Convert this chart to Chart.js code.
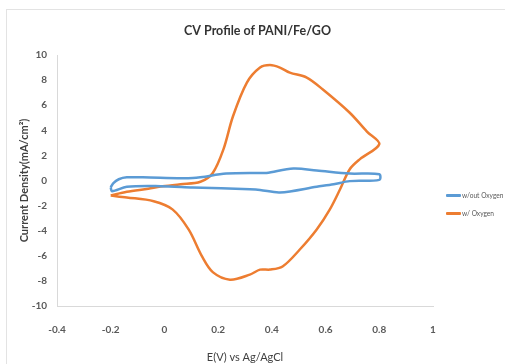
<!DOCTYPE html>
<html>
<head>
<meta charset="utf-8">
<script src="https://cdn.jsdelivr.net/npm/chart.js@4.4.1/dist/chart.umd.min.js"></script>
<style>
  html, body { margin: 0; padding: 0; background: #fff; }
  #wrap { position: relative; width: 505px; height: 364px; }
  #frame { position: absolute; left: 6px; top: 9px; width: 510px; height: 360px; border: 1px solid #e3e3e3; box-sizing: border-box; }
  #legend { position: absolute; left: 446px; top: 186px; font-family: Lato, sans-serif; font-size: 6.6px; color: #595959; }
</style>
</head>
<body>
<div id="wrap">
  <div id="frame"></div>
  <canvas id="cv" width="505" height="364"></canvas>
  <div id="legend"></div>
</div>
<script>
// w/ Oxygen: anodic sweep then cathodic sweep back
const oxyE = [-0.2, -0.14, -0.06, -0.015, 0.06, 0.134, 0.18, 0.22, 0.255, 0.307, 0.356, 0.393, 0.43, 0.467, 0.53, 0.59, 0.69, 0.754, 0.8,
              0.728, 0.69, 0.654, 0.616, 0.567, 0.504, 0.44, 0.393, 0.356, 0.318, 0.244, 0.18, 0.14, 0.09, 0.03, -0.04, -0.14, -0.2];
const oxyJ = [-1.2, -0.9, -0.65, -0.48, -0.3, -0.1, 0.6, 2.5, 5.1, 7.8, 9.0, 9.2, 9.0, 8.6, 8.2, 7.25, 5.4, 3.9, 2.9,
              1.7, 0.9, -0.7, -2.3, -3.9, -5.5, -6.85, -7.1, -7.1, -7.5, -7.9, -7.3, -6.05, -3.9, -2.3, -1.65, -1.35, -1.2];

// w/out Oxygen
const noOxyE = [-0.2, -0.19, -0.17, -0.14, -0.08, 0.106, 0.23, 0.356, 0.38, 0.48, 0.567, 0.69, 0.8,
                0.8, 0.69, 0.63, 0.567, 0.43, 0.356, 0.318, 0.106, -0.015, -0.14, -0.195, -0.2];
const noOxyJ = [-0.55, -0.2, 0.1, 0.25, 0.25, 0.2, 0.55, 0.6, 0.6, 0.95, 0.8, 0.55, 0.5,
                0.05, -0.05, -0.3, -0.5, -0.95, -0.75, -0.7, -0.55, -0.45, -0.5, -0.85, -0.55];

const seriesNames = ['w/out Oxygen', 'w/ Oxygen'];
const seriesColors = ['#5b9bd5', '#ed7d31'];

const xTicks = [-0.4, -0.2, 0, 0.2, 0.4, 0.6, 0.8, 1];
const yTicks = [-10, -8, -6, -4, -2, 0, 2, 4, 6, 8, 10];

const toPoints = (xs, ys) => xs.map((x, i) => ({ x: x, y: ys[i] }));

const ctx = document.getElementById('cv').getContext('2d');
const tickFont = { family: 'Lato, sans-serif', size: 10, weight: 'bold' };

new Chart(ctx, {
  type: 'scatter',
  data: {
    datasets: [
      { label: seriesNames[0], data: toPoints(noOxyE, noOxyJ), borderColor: seriesColors[0], backgroundColor: seriesColors[0] },
      { label: seriesNames[1], data: toPoints(oxyE, oxyJ), borderColor: seriesColors[1], backgroundColor: seriesColors[1] }
    ]
  },
  options: {
    responsive: false,
    animation: false,
    layout: { padding: { left: 10, right: 0, top: 10, bottom: 0 } },
    elements: {
      line: { borderWidth: 2.5, tension: 0.32 },
      point: { radius: 0, hoverRadius: 0 }
    },
    datasets: { scatter: { showLine: true } },
    plugins: {
      legend: { display: false },
      tooltip: { enabled: false },
      title: {
        display: true,
        text: 'CV Profile of PANI/Fe/GO',
        color: '#333333',
        font: { family: 'Lato, sans-serif', size: 12.5, weight: 'bold' },
        padding: { top: 13, bottom: 17 }
      }
    },
    scales: {
      x: {
        type: 'linear',
        min: -0.4, max: 1,
        afterBuildTicks: s => { s.ticks = xTicks.map(v => ({ value: v })); },
        afterFit: s => { s.height = 58; },
        grid: { display: false, drawTicks: false },
        border: { display: true, color: '#d9d9d9', width: 1 },
        ticks: { color: '#595959', font: tickFont, padding: 18, callback: v => String(Number(v.toFixed(1))) },
        title: { display: true, text: 'E(V) vs Ag/AgCl', color: '#404040', font: { family: 'Lato, sans-serif', size: 11 }, padding: { top: 2, bottom: 0 } }
      },
      y: {
        type: 'linear',
        min: -10, max: 10,
        afterBuildTicks: s => { s.ticks = yTicks.map(v => ({ value: v })); },
        afterFit: s => { s.width = 47; },
        grid: { display: false, drawTicks: false },
        border: { display: true, color: '#d9d9d9', width: 1 },
        ticks: { color: '#595959', font: tickFont, padding: 10 },
        title: { display: true, text: 'Current Density(mA/cm²)', color: '#404040', font: { family: 'Lato, sans-serif', size: 11, weight: 'bold' }, padding: { top: 8, bottom: 0 } }
      },
      // empty right axis, only keeps room for the legend
      legendSpace: {
        type: 'linear',
        position: 'right',
        afterFit: s => { s.width = 72; },
        grid: { display: false, drawTicks: false },
        border: { display: false },
        ticks: { display: false }
      }
    }
  }
});

// custom legend
const legend = document.getElementById('legend');
seriesNames.forEach((name, i) => {
  legend.innerHTML += `
    <div style="display:flex;align-items:center;height:18px;">
      <div style="width:15px;height:3px;background:${seriesColors[i]};border-radius:1px;margin-right:1px;"></div>
      <span>${name}</span>
    </div>`;
});
</script>
</body>
</html>
